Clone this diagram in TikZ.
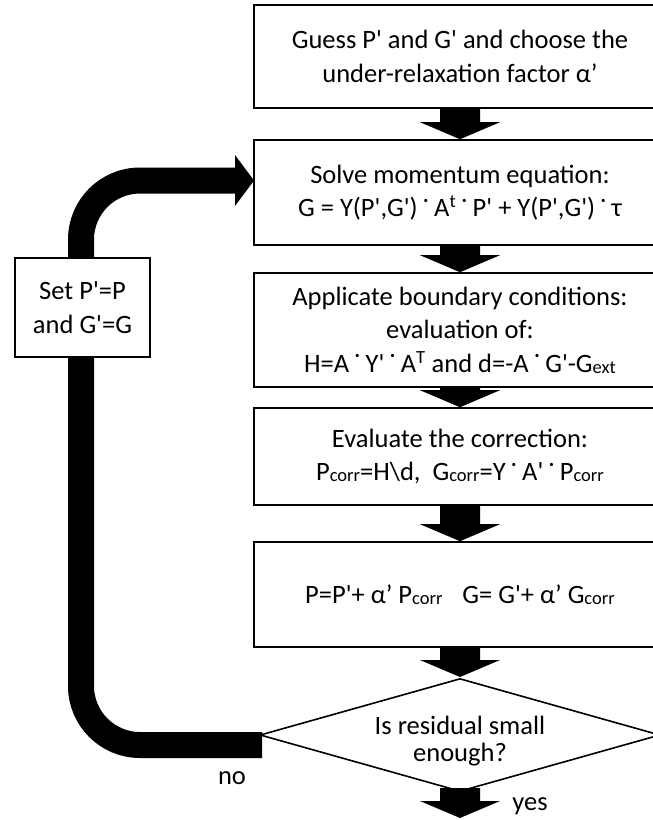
\documentclass[tikz,border=0pt]{standalone}
\usepackage{fontspec}
\setmainfont{Carlito}[Ligatures=TeXOff]
\usetikzlibrary{calc,shapes.geometric}
\newcommand\sbs[1]{\raisebox{-1pt}{\fontsize{18.5}{18.5}\selectfont #1}}
\newcommand\cdt{\ \raisebox{0.5em}{\fontsize{9}{9}\selectfont\textbullet}\ }
\tikzset{
  stepbox/.style={draw, line width=1.6pt, minimum width=412pt, align=center, inner sep=0pt,
    font=\fontsize{26.5}{33.5}\selectfont, fill=white},
  decision/.style={draw, diamond, line width=1.6pt, minimum width=400pt, minimum height=113pt,
    aspect=3.5, inner sep=0pt},
  loopband/.style={line width=26pt, rounded corners=59pt},
  lbl/.style={font=\fontsize{26.5}{27.5}\selectfont, align=center}
}
\newcommand\blockarr[2]{%
  \fill ($(#1)+(-20,0)$) -- ($(#2)+(-20,-17)$) -- ($(#2)+(-40,-17)$) -- (#2)
    -- ($(#2)+(40,-17)$) -- ($(#2)+(20,-17)$) -- ($(#1)+(20,0)$) -- cycle;}
\begin{document}
\begin{tikzpicture}[x=1pt,y=-1pt]
\useasboundingbox (0,0) rectangle (653,820);
\clip (0,0) rectangle (653,820);
\node[stepbox, minimum height=103pt] (b1) at (460,56.5) {Guess P' and G' and choose the\\under-relaxation factor α’};
\node[stepbox, minimum height=105pt] (b2) at (460,192.5) {Solve momentum equation:\\G = Y(P',G')\cdt A\textsuperscript{t}\cdt P' + Y(P',G')\cdt τ};
\node[stepbox, minimum height=114pt] (b3) at (460,330) {Applicate boundary conditions:\\evaluation of:\\H=A\cdt Y'\cdt A\textsuperscript{T} and d=-A\cdt G'-G\sbs{ext}};
\node[stepbox, minimum height=97pt] (b4) at (460,456.5) {Evaluate the correction:\\P\sbs{corr}=H\textbackslash d,\ \ G\sbs{corr}=Y\cdt A'\cdt P\sbs{corr}};
\node[stepbox, minimum height=105pt] (b5) at (460,594.5) {P=P'+ α’ P\sbs{corr}\hspace{20pt}G= G'+ α’ G\sbs{corr}};
\node[decision] (d) at (460,735) {};
\node[lbl] (dtext) at (460,741) {Is residual small\\enough?};
\coordinate (dtop) at (460,677);
\coordinate (endp) at (460,818);
\coordinate (dbot) at (460,788);
\blockarr{b1.south}{b2.north}
\blockarr{b2.south}{b3.north}
\blockarr{b3.south}{b4.north}
\blockarr{b4.south}{b5.north}
\blockarr{b5.south}{dtop}
\blockarr{dbot}{endp}
% loop back
\coordinate (ls) at (262,745);
\coordinate (lc1) at (81,745);
\coordinate (lc2) at (81,180.5);
\coordinate (le) at (236,180.5);
\coordinate (tip) at (254,180.5);
\draw[loopband] (ls) -- (lc1) -- (lc2) -- (le);
\fill (235,155) -- (tip) -- (235,206) -- cycle;
\node[stepbox, minimum width=135pt, minimum height=99pt] (set) at (82.5,307.5) {Set P'=P\\and G'=G};
\node[lbl] (no) at (232,778) {no};
\node[lbl] (yes) at (530,806) {yes};
\end{tikzpicture}
\end{document}
